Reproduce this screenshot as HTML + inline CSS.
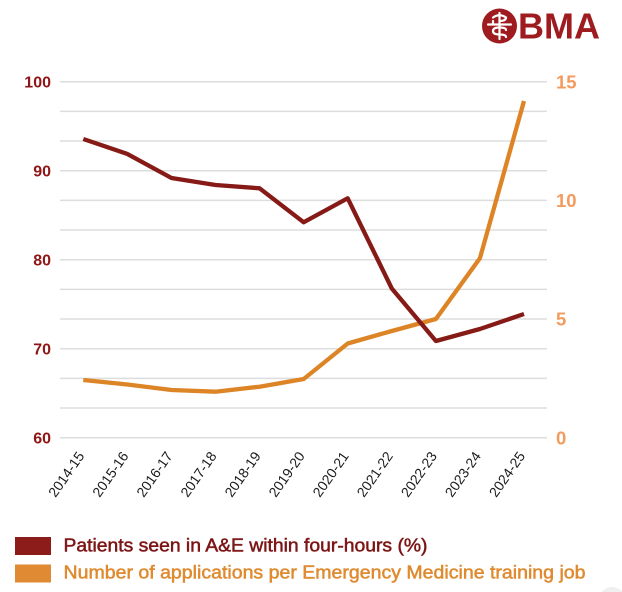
<!DOCTYPE html>
<html>
<head>
<meta charset="utf-8">
<style>
  html, body { margin: 0; padding: 0; background: #ffffff; }
  body { width: 622px; height: 592px; overflow: hidden; }
  svg { display: block; }
  text { font-family: "Liberation Sans", Arial, sans-serif; }
</style>
</head>
<body>
<svg width="622" height="592" viewBox="0 0 622 592" xmlns="http://www.w3.org/2000/svg">
  <rect x="0" y="0" width="622" height="592" fill="#ffffff"/>

  <!-- Logo -->
  <circle cx="499.5" cy="26" r="17.5" fill="#9e1b1f"/>
  <g stroke="#ffffff" stroke-width="2.2" fill="none" stroke-linecap="round">
    <line x1="488" y1="24.5" x2="511" y2="24.5"/>
    <line x1="499.5" y1="13" x2="499.5" y2="39"/>
    <path d="M493 17.5 Q499.5 13 506 17.5 Q506 21 499.5 21"/>
    <path d="M506 30 Q506 27.5 499.5 27.5 Q493 27.5 493 31 Q493 34.5 499.5 34.5 Q506 34.5 506 37"/>
    <line x1="493" y1="21" x2="493" y2="24.5"/>
  </g>
  <text x="518" y="38.5" font-size="36" font-weight="bold" fill="#9e1b1f" textLength="82" lengthAdjust="spacingAndGlyphs">BMA</text>

  <!-- Gridlines -->
  <g stroke="#dddddd" stroke-width="1.5">
    <line x1="60" y1="81.7" x2="547" y2="81.7"/>
    <line x1="60" y1="111.4" x2="547" y2="111.4"/>
    <line x1="60" y1="141.0" x2="547" y2="141.0"/>
    <line x1="60" y1="170.7" x2="547" y2="170.7"/>
    <line x1="60" y1="200.4" x2="547" y2="200.4"/>
    <line x1="60" y1="230.0" x2="547" y2="230.0"/>
    <line x1="60" y1="259.7" x2="547" y2="259.7"/>
    <line x1="60" y1="289.4" x2="547" y2="289.4"/>
    <line x1="60" y1="319.0" x2="547" y2="319.0"/>
    <line x1="60" y1="348.7" x2="547" y2="348.7"/>
    <line x1="60" y1="378.4" x2="547" y2="378.4"/>
    <line x1="60" y1="408.0" x2="547" y2="408.0"/>
    <line x1="60" y1="437.7" x2="547" y2="437.7"/>
  </g>

  <!-- Left axis labels -->
  <g font-size="16" font-weight="bold" fill="#8e1616" text-anchor="end">
    <text x="51" y="87.5">100</text>
    <text x="51" y="176.5">90</text>
    <text x="51" y="265.5">80</text>
    <text x="51" y="354.5">70</text>
    <text x="51" y="443.5">60</text>
  </g>

  <!-- Right axis labels -->
  <g font-size="18.5" font-weight="bold" fill="#f39b5e" text-anchor="start">
    <text x="556" y="88.5">15</text>
    <text x="556" y="207">10</text>
    <text x="556" y="325.5">5</text>
    <text x="556" y="444.5">0</text>
  </g>

  <!-- X axis labels -->
  <g font-size="14" fill="#1a1a1a" text-anchor="end">
    <text transform="translate(85,456) rotate(-55)">2014-15</text>
    <text transform="translate(129.1,456) rotate(-55)">2015-16</text>
    <text transform="translate(173.2,456) rotate(-55)">2016-17</text>
    <text transform="translate(217.2,456) rotate(-55)">2017-18</text>
    <text transform="translate(261.3,456) rotate(-55)">2018-19</text>
    <text transform="translate(305.4,456) rotate(-55)">2019-20</text>
    <text transform="translate(349.4,456) rotate(-55)">2020-21</text>
    <text transform="translate(393.5,456) rotate(-55)">2021-22</text>
    <text transform="translate(437.6,456) rotate(-55)">2022-23</text>
    <text transform="translate(481.6,456) rotate(-55)">2023-24</text>
    <text transform="translate(525.7,456) rotate(-55)">2024-25</text>
  </g>

  <!-- Orange series -->
  <polyline fill="none" stroke="#dd8526" stroke-width="4.3" stroke-linejoin="round" stroke-linecap="butt"
    points="83.3,380 127.4,384.5 171.5,390 215.5,391.7 259.6,386.7 303.7,379 347.7,343.5 391.8,331 435.9,319 479.9,258.3 524,101"/>

  <!-- Red series -->
  <polyline fill="none" stroke="#861a16" stroke-width="4.3" stroke-linejoin="round" stroke-linecap="butt"
    points="83.3,139 127.4,154 171.5,178 215.5,185 259.6,188.3 303.7,222.3 347.7,198.3 391.8,288.5 435.9,341 479.9,329 524,314"/>

  <!-- Legend -->
  <rect x="15" y="537" width="36" height="18" fill="#8b1c1a"/>
  <text x="63.5" y="551.7" font-size="18" fill="#7d1515" stroke="#7d1515" stroke-width="0.5" textLength="364" lengthAdjust="spacingAndGlyphs">Patients seen in A&amp;E within four-hours (%)</text>
  <rect x="15" y="564.5" width="36" height="18" fill="#e08a33"/>
  <text x="63.5" y="578.5" font-size="18" fill="#df8a2e" stroke="#df8a2e" stroke-width="0.5" textLength="522" lengthAdjust="spacingAndGlyphs">Number of applications per Emergency Medicine training job</text>

  <!-- faint corner circle -->
  <circle cx="612" cy="601" r="14" fill="#f0f0f0"/>
</svg>
</body>
</html>
